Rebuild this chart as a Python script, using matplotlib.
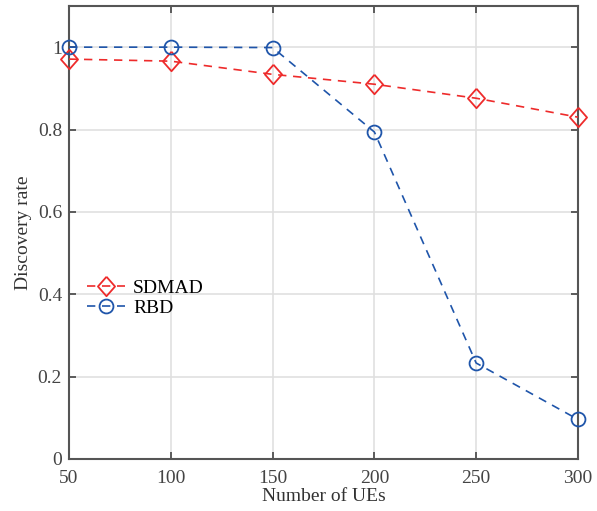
import matplotlib.pyplot as plt

# Discovery rate vs. number of UEs
num_ues = [50, 100, 150, 200, 250, 300]
sdmad = [0.971, 0.966, 0.934, 0.910, 0.876, 0.830]
rbd = [1.0, 1.0, 0.999, 0.794, 0.233, 0.096]

plt.rcParams['font.family'] = ['Liberation Serif', 'DejaVu Serif']

# diamond slightly narrower than it is tall
diamond = [(0, 1), (0.88, 0), (0, -1), (-0.88, 0), (0, 1)]

fig = plt.figure(figsize=(5.97, 5.11), dpi=100)
ax = fig.add_axes([0.1156, 0.1018, 0.8525, 0.8865])

ax.plot(num_ues, sdmad, color='#ee2b2b', linestyle=(0, (5, 4)), linewidth=1.2,
        marker=diamond, markersize=14, markerfacecolor='none', markeredgewidth=1.3,
        label='SDMAD', clip_on=False, zorder=3)
ax.plot(num_ues, rbd, color='#1f55aa', linestyle=(0, (5, 4)), linewidth=1.2,
        marker='o', markersize=10, markerfacecolor='none', markeredgewidth=1.3,
        label='RBD', clip_on=False, zorder=3)

ax.set_xlim(50, 300)
ax.set_ylim(0, 1.1)
ax.set_xticks(num_ues)
ax.set_yticks([0, 0.2, 0.4, 0.6, 0.8, 1.0])
ax.set_yticklabels(['0', '0.2', '0.4', '0.6', '0.8', '1'])
ax.grid(True, color='#e0e0e0', linewidth=1.2)
ax.set_axisbelow(True)

ax.tick_params(direction='in', length=5, width=1.2, colors='#444444',
               labelsize=14, top=True, right=True, labeltop=False, labelright=False)
ax.tick_params(axis='x', pad=8)
ax.tick_params(axis='y', pad=5)
for s in ax.spines.values():
    s.set_color('#555555')
    s.set_linewidth(1.5)

ax.set_xlabel('Number of UEs', fontsize=14, color='#333333', labelpad=1)
ax.set_ylabel('Discovery rate', fontsize=14, color='#333333', labelpad=4)

ax.legend(loc='upper left', bbox_to_anchor=(0.0, 0.435), frameon=False,
          fontsize=14, handlelength=2.0, handletextpad=0.4, labelspacing=0.1)

fig.savefig('out.png', dpi=100)
